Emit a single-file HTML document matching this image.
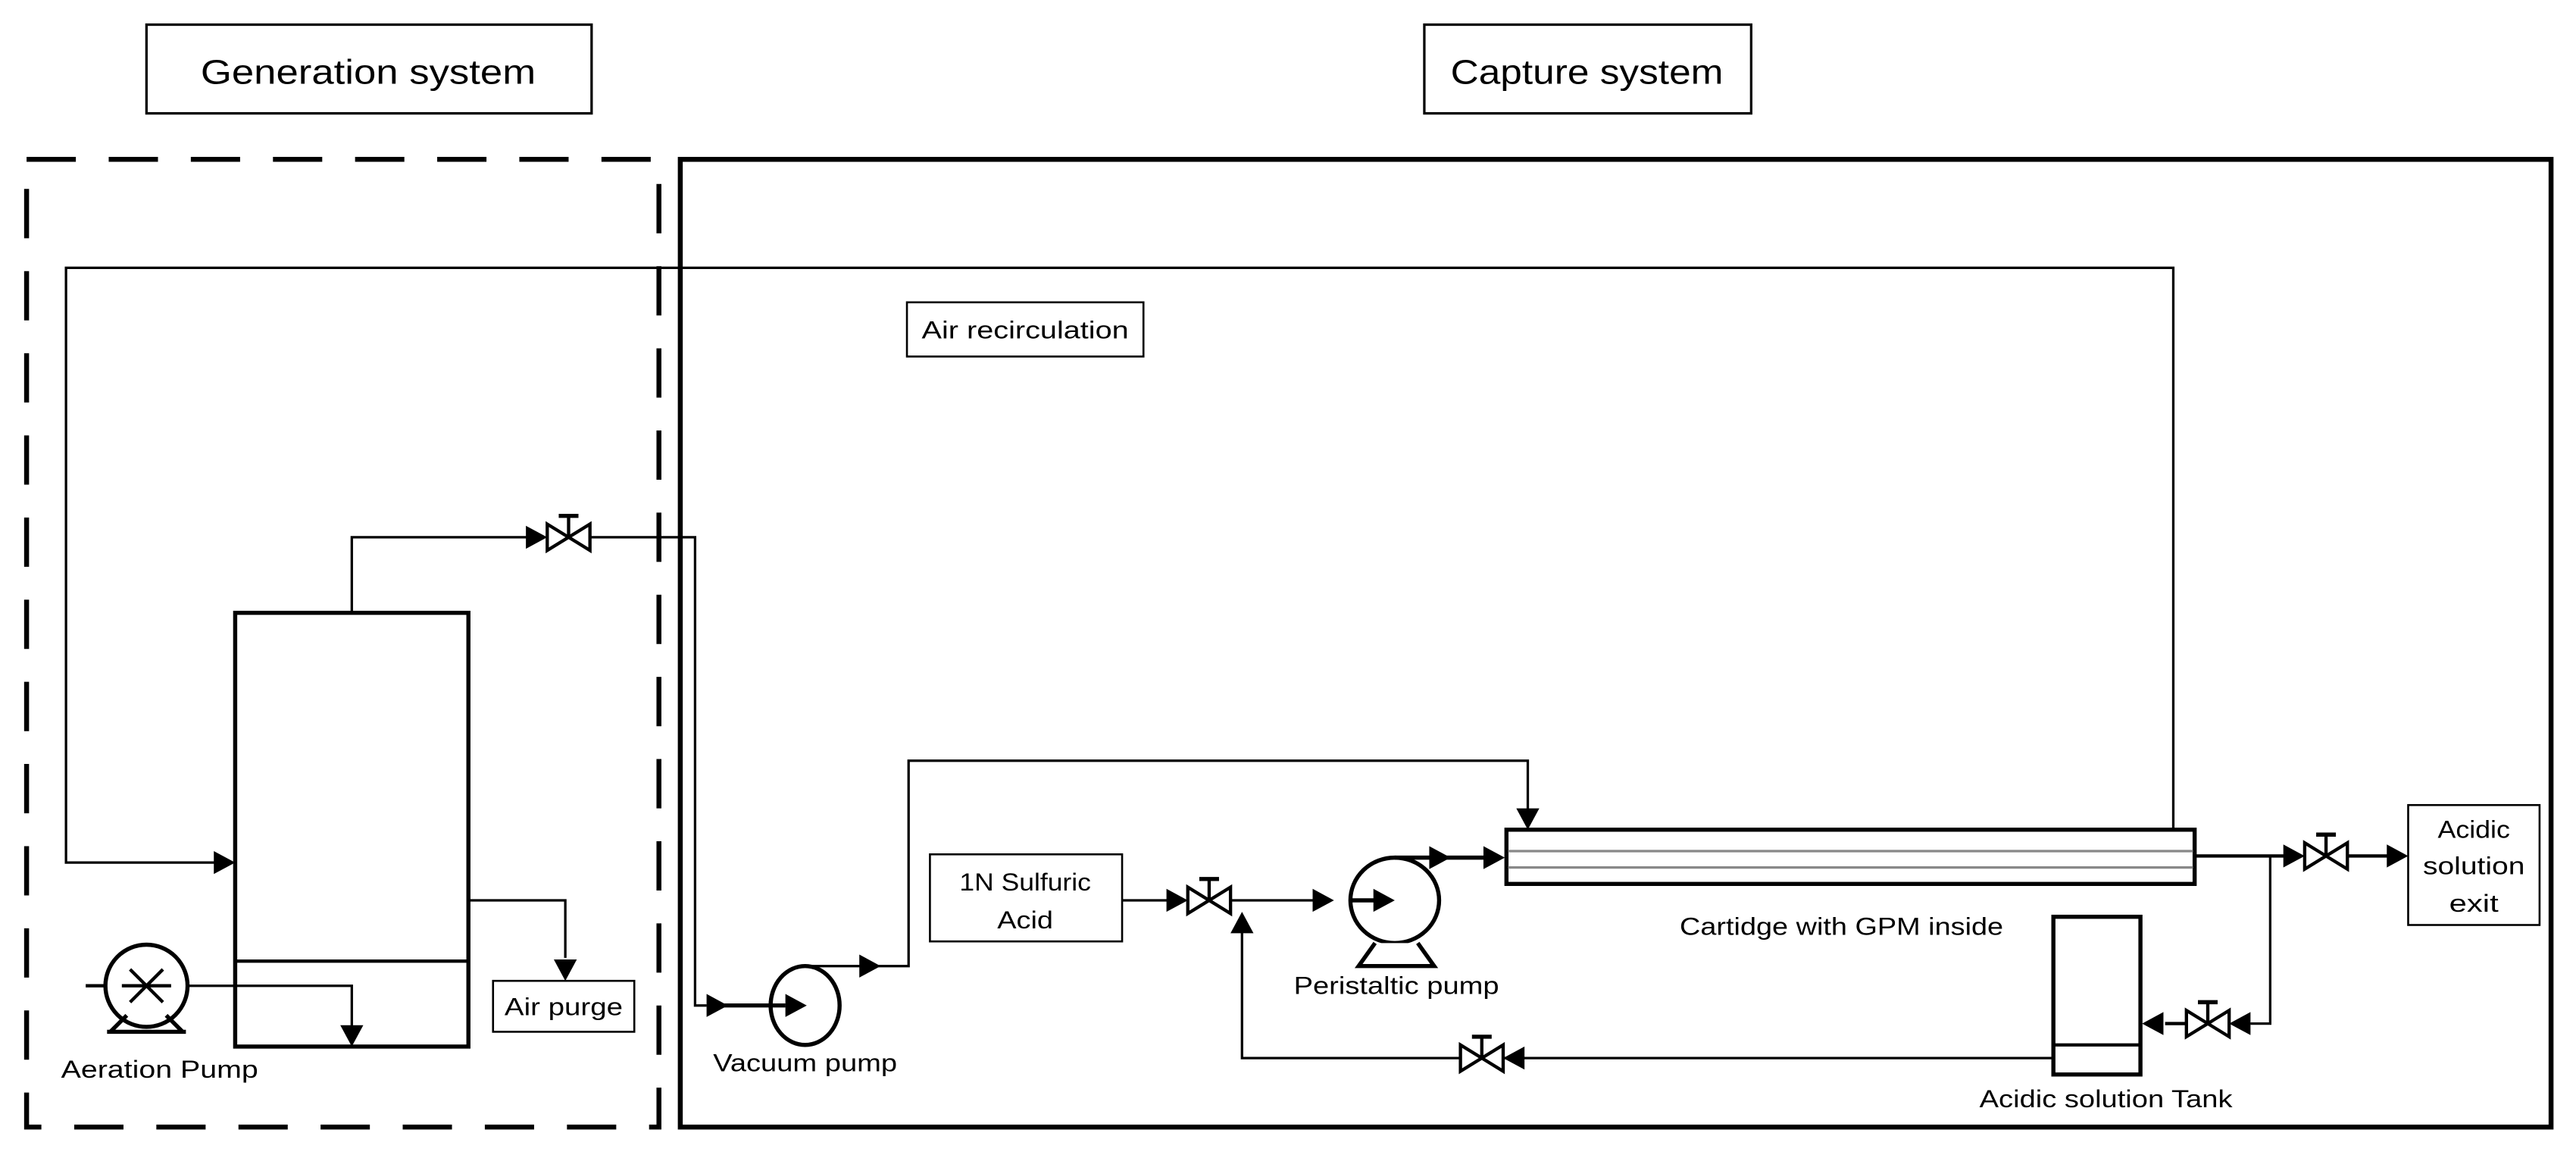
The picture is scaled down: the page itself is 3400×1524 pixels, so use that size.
<!DOCTYPE html>
<html><head><meta charset="utf-8"><style>html,body{margin:0;padding:0;background:#fff}svg{display:block}</style></head>
<body>
<svg width="3400" height="1524" viewBox="0 0 1568 703" xmlns="http://www.w3.org/2000/svg" font-family="Liberation Sans, sans-serif">
<defs>
<g id="valve"><path d="M-13,-8 L13,8 L13,-8 L-13,8 Z" fill="#fff" stroke="#000" stroke-width="2"/><line x1="0" y1="0" x2="0" y2="-13" stroke="#000" stroke-width="2"/><line x1="-6" y1="-13" x2="6" y2="-13" stroke="#000" stroke-width="2.5"/></g>
<g id="ar"><path d="M0,0 L-13,-7 L-13,7 Z" fill="#000"/></g>
</defs>
<g fill="none" stroke="#000">
<!-- header boxes -->
<rect x="89" y="15" width="271" height="54" stroke-width="1.5"/>
<rect x="867" y="15" width="199" height="54" stroke-width="1.5"/>
<!-- dashed box -->
<rect x="16" y="97" width="385" height="589" stroke-width="3" stroke-dasharray="30,20"/>
<!-- capture box -->
<rect x="414" y="97" width="1139" height="589" stroke-width="3"/>
<!-- recirculation -->
<polyline points="1323,505 1323,163 40,163 40,525 132,525" stroke-width="1.5"/>
<rect x="552" y="184" width="144" height="33" stroke-width="1.2"/>
<!-- tank -->
<rect x="143" y="373" width="142" height="264" stroke-width="2.5"/>
<line x1="143" y1="585" x2="285" y2="585" stroke-width="2"/>
<polyline points="214,373 214,327 322,327" stroke-width="1.5"/>
<polyline points="359,327 423,327 423,612 430,612" stroke-width="1.5"/>
<!-- aeration pump -->
<circle cx="89" cy="600" r="25" stroke-width="2.5" fill="#fff"/>
<path d="M67,628 L77,618 M101,618 L111,628 M65,628 L113,628" stroke-width="2.5"/>
<line x1="52" y1="600" x2="64" y2="600" stroke-width="2"/>
<line x1="74" y1="600" x2="104" y2="600" stroke-width="2"/>
<path d="M79,590 L99,610 M99,590 L79,610" stroke-width="2"/>
<polyline points="114,600 214,600 214,625" stroke-width="1.5"/>
<!-- air purge -->
<polyline points="285,548 344,548 344,583" stroke-width="1.5"/>
<rect x="300" y="597" width="86" height="31" stroke-width="1.2"/>
<!-- vacuum pump -->
<ellipse cx="490" cy="612" rx="21" ry="24" stroke-width="2.5" fill="#fff"/>
<line x1="440" y1="612" x2="478" y2="612" stroke-width="2.5"/>
<polyline points="490,588 535,588 553,588 553,463 930,463 930,495" stroke-width="1.5"/>
<!-- sulfuric acid -->
<rect x="566" y="520" width="117" height="53" stroke-width="1.2"/>
<line x1="683" y1="548" x2="712" y2="548" stroke-width="1.5"/>
<line x1="749" y1="548" x2="800" y2="548" stroke-width="1.5"/>
<!-- peristaltic -->
<ellipse cx="849" cy="548" rx="27" ry="26" stroke-width="2.5" fill="#fff"/>
<path d="M837,574 L827,588 L873,588 L863,574" stroke-width="2.5" fill="#fff"/>
<line x1="822" y1="548" x2="838" y2="548" stroke-width="2.5"/>
<polyline points="849,522 905,522" stroke-width="2.5"/>
<!-- return line -->
<polyline points="1250,644 915,644" stroke-width="1.5"/>
<polyline points="889,644 756,644 756,560" stroke-width="1.5"/>
<!-- cartridge -->
<rect x="917" y="505" width="419" height="33" stroke-width="2.5"/>
<line x1="918" y1="518" x2="1335" y2="518" stroke="#888" stroke-width="1.5"/>
<line x1="918" y1="528" x2="1335" y2="528" stroke="#888" stroke-width="1.5"/>
<!-- outlet -->
<line x1="1336" y1="521" x2="1392" y2="521" stroke-width="2"/>
<line x1="1429" y1="521" x2="1455" y2="521" stroke-width="2"/>
<polyline points="1382,521 1382,623 1370,623" stroke-width="1.5"/>
<line x1="1331" y1="623" x2="1318" y2="623" stroke-width="2"/>
<rect x="1466" y="490" width="80" height="73" stroke-width="1.2"/>
<!-- acidic tank -->
<rect x="1250" y="558" width="53" height="96" stroke-width="2.5"/>
<line x1="1250" y1="636" x2="1303" y2="636" stroke-width="2"/>
</g>
<!-- valves -->
<use href="#valve" x="346" y="327"/>
<use href="#valve" x="736" y="548"/>
<use href="#valve" x="902" y="644"/>
<use href="#valve" x="1416" y="521"/>
<use href="#valve" x="1344" y="623"/>
<!-- arrowheads -->
<use href="#ar" x="143" y="525"/>
<use href="#ar" transform="translate(214,637) rotate(90)"/>
<use href="#ar" transform="translate(344,597) rotate(90)"/>
<use href="#ar" x="333" y="327"/>
<use href="#ar" x="443" y="612"/>
<use href="#ar" x="491" y="612"/>
<use href="#ar" x="536" y="588"/>
<use href="#ar" transform="translate(930,505) rotate(90)"/>
<use href="#ar" x="723" y="548"/>
<use href="#ar" x="812" y="548"/>
<use href="#ar" x="849" y="548"/>
<use href="#ar" x="883" y="522"/>
<use href="#ar" x="916" y="522"/>
<use href="#ar" transform="translate(756,555) rotate(-90)"/>
<use href="#ar" transform="translate(915,644) rotate(180)"/>
<use href="#ar" x="1403" y="521"/>
<use href="#ar" x="1466" y="521"/>
<use href="#ar" transform="translate(1357,623) rotate(180)"/>
<use href="#ar" transform="translate(1304,623) rotate(180)"/>
<!-- text -->
<g fill="#000" text-anchor="middle">
<text x="224" y="51" font-size="21" textLength="204" lengthAdjust="spacingAndGlyphs">Generation system</text>
<text x="966" y="51" font-size="21" textLength="166" lengthAdjust="spacingAndGlyphs">Capture system</text>
<text x="624" y="206" font-size="15" textLength="126" lengthAdjust="spacingAndGlyphs">Air recirculation</text>
<text x="97" y="656" font-size="15" textLength="120" lengthAdjust="spacingAndGlyphs">Aeration Pump</text>
<text x="343" y="618" font-size="15" textLength="72" lengthAdjust="spacingAndGlyphs">Air purge</text>
<text x="490" y="652" font-size="15" textLength="112" lengthAdjust="spacingAndGlyphs">Vacuum pump</text>
<text x="624" y="542" font-size="15" textLength="80" lengthAdjust="spacingAndGlyphs">1N Sulfuric</text>
<text x="624" y="565" font-size="15" textLength="34" lengthAdjust="spacingAndGlyphs">Acid</text>
<text x="850" y="605" font-size="15" textLength="125" lengthAdjust="spacingAndGlyphs">Peristaltic pump</text>
<text x="1121" y="569" font-size="15" textLength="197" lengthAdjust="spacingAndGlyphs">Cartidge with GPM inside</text>
<text x="1282" y="674" font-size="15" textLength="154" lengthAdjust="spacingAndGlyphs">Acidic solution Tank</text>
<text x="1506" y="510" font-size="15" textLength="44" lengthAdjust="spacingAndGlyphs">Acidic</text>
<text x="1506" y="532" font-size="15" textLength="62" lengthAdjust="spacingAndGlyphs">solution</text>
<text x="1506" y="555" font-size="15" textLength="30" lengthAdjust="spacingAndGlyphs">exit</text>
</g>
</svg>
</body></html>
